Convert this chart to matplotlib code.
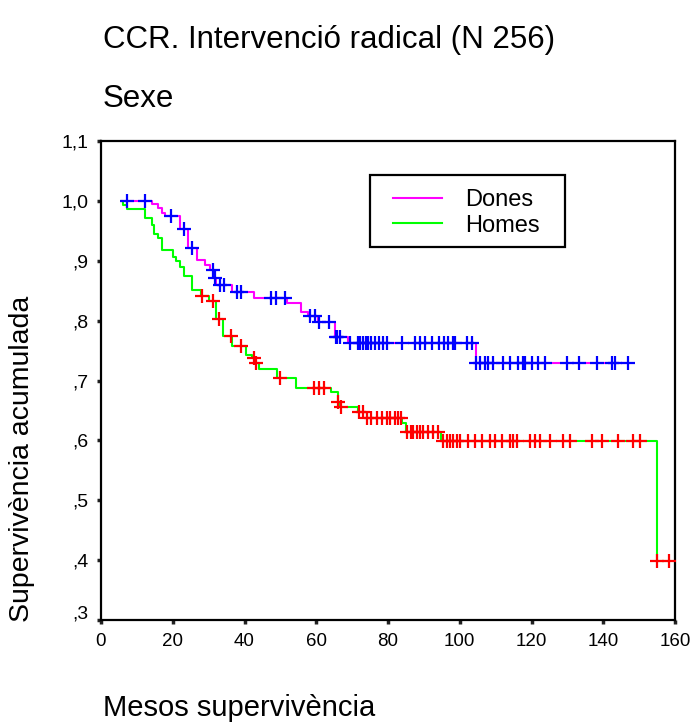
import numpy as np
import matplotlib
matplotlib.use("Agg")
import matplotlib.pyplot as plt
from matplotlib.lines import Line2D
from matplotlib.patches import Rectangle
from matplotlib.transforms import ScaledTranslation

plt.rcParams['font.family'] = ['Liberation Sans', 'DejaVu Sans']

# ---- data ----
title1 = "CCR. Intervenció radical (N 256)"
title2 = "Sexe"
xlabel = "Mesos supervivència"
ylabel = "Supervivència acumulada"
groups = ["Dones", "Homes"]

xticks = [0, 20, 40, 60, 80, 100, 120, 140, 160]
yticks = [0.3, 0.4, 0.5, 0.6, 0.7, 0.8, 0.9, 1.0, 1.1]
yticklabels = [",3", ",4", ",5", ",6", ",7", ",8", ",9", "1,0", "1,1"]

# Dones: step times and survival after each step
dones_t = [5.8, 14.3, 15.8, 16.9, 17.8, 22.0, 24.2, 26.7, 29.0, 30.4, 31.5, 32.0,
           36.4, 42.6, 51.9, 55.7, 57.8, 60.5, 65.2, 68.9, 104.4]
dones_s = [1.0, 0.995, 0.988, 0.980, 0.975, 0.953, 0.921, 0.901, 0.893, 0.884, 0.872, 0.860,
           0.848, 0.837, 0.829, 0.815, 0.807, 0.797, 0.773, 0.762, 0.730]
dones_cens = [7.3, 12.3, 19.5, 23.1, 25.3, 31.3, 31.8, 33.2, 34.3, 38.0, 39.1, 47.3, 48.8,
              51.3, 58.3, 59.6, 60.9, 63.5, 65.4, 65.8, 66.6, 69.4, 71.7, 72.2, 73.1, 73.9,
              74.5, 75.2, 76.4, 77.6, 78.7, 79.8, 83.8, 87.5, 88.9, 90.3, 92.2, 94.3, 95.6,
              96.8, 98.2, 98.7, 101.9, 103.3, 104.5, 105.7, 107.0, 108.0, 109.4, 112.1, 114.0,
              116.3, 117.7, 118.2, 120.0, 121.9, 123.8, 129.8, 133.3, 138.2, 142.4, 143.3, 147.0]

# Homes
homes_t = [5.8, 6.2, 7.2, 12.3, 14.3, 14.9, 16.0, 17.1, 20.0, 20.9, 22.0, 23.2, 25.5,
           28.0, 30.2, 32.0, 34.1, 36.4, 40.4, 42.0, 43.0, 44.1, 49.0, 54.4, 64.0, 66.0,
           66.6, 71.5, 74.2, 83.8, 85.0, 94.9, 155.1]
homes_s = [1.0, 0.993, 0.986, 0.972, 0.960, 0.945, 0.938, 0.918, 0.907, 0.900, 0.890, 0.875, 0.851,
           0.841, 0.832, 0.802, 0.774, 0.758, 0.743, 0.737, 0.729, 0.720, 0.704, 0.687, 0.680, 0.664,
           0.655, 0.647, 0.638, 0.629, 0.614, 0.599, 0.399]
homes_cens = [28.1, 31.3, 32.9, 36.2, 39.0, 42.6, 43.2, 49.9, 59.5, 60.9, 62.2, 66.0, 66.8,
              71.9, 73.1, 74.2, 75.4, 76.8, 78.2, 79.6, 80.6, 81.9, 82.9, 83.5, 85.2, 86.3,
              87.1, 88.0, 88.9, 89.8, 91.2, 92.6, 94.0, 95.4, 96.4, 97.3, 98.2, 99.2, 100.1,
              102.4, 104.2, 106.1, 108.4, 109.8, 111.7, 114.0, 114.9, 115.9, 119.6, 121.0,
              122.4, 125.2, 128.9, 130.7, 136.8, 139.6, 144.2, 148.4, 150.2, 155.1, 158.2]

line_colors = {"Dones": "#FF00FF", "Homes": "#00FF00"}
cens_colors = {"Dones": "#0000FF", "Homes": "#FF0000"}

# ---- figure ----
W, H = 696, 722
fig = plt.figure(figsize=(W / 100, H / 100), dpi=100)
ax = fig.add_axes([101 / W, 1 - 620 / H, (675 - 101) / W, (620 - 141) / H])

def curve(t, s, cens):
    t = np.asarray(t, float)
    s = np.asarray(s, float)
    c = np.asarray(cens, float)
    end = max(t[-1], c.max())
    tt = np.append(t, end)
    ss = np.append(s, s[-1])
    idx = np.searchsorted(t, c, side='right') - 1
    return tt, ss, c, s[idx]

data = {"Dones": (dones_t, dones_s, dones_cens), "Homes": (homes_t, homes_s, homes_cens)}
curves = {g: curve(*data[g]) for g in groups}

for g in ["Homes", "Dones"]:
    tt, ss, c, cy = curves[g]
    ax.plot(tt, ss, drawstyle='steps-post', color=line_colors[g], lw=1.5, zorder=2)
for g in ["Homes", "Dones"]:
    tt, ss, c, cy = curves[g]
    ax.plot(c, cy, ls='none', marker='+', ms=10, mew=1.6, color=cens_colors[g], zorder=3)

ax.set_xlim(0, 160)
ax.set_ylim(0.3, 1.1)
ax.set_xticks(xticks)
ax.set_xticklabels([str(v) for v in xticks], fontsize=13.5)
ax.set_yticks(yticks)
ax.set_yticklabels(yticklabels, fontsize=14)
ax.tick_params(direction='out', length=3, width=2.5, color='#222222', pad=6)
for sp in ax.spines.values():
    sp.set_linewidth(1.6)
    sp.set_color('black')

# bottom y label sits slightly raised, as in the reference
lbl0 = ax.get_yticklabels()[0]
lbl0.set_transform(lbl0.get_transform() + ScaledTranslation(0, 8 / 100, fig.dpi_scale_trans))

fig.text(103 / W, 1 - 40 / H, title1, fontsize=22.5, ha='left', va='center')
fig.text(103 / W, 1 - 99 / H, title2, fontsize=22.5, ha='left', va='center')
fig.text(103 / W, 1 - 716 / H, xlabel, fontsize=21, ha='left', va='baseline')
fig.text(22 / W, 1 - 622 / H, ylabel, fontsize=20.5, ha='center', va='bottom', rotation=90)

# legend box
fig.add_artist(Rectangle((370 / W, 1 - 247 / H), 195 / W, 72 / H, transform=fig.transFigure,
                         facecolor='white', edgecolor='black', lw=1.6, zorder=4))
handles = [Line2D([], [], color=line_colors[g], lw=1.5) for g in groups]
leg = fig.legend(handles, groups, loc='upper left',
                 bbox_to_anchor=(393 / W, 1 - 189 / H), bbox_transform=fig.transFigure,
                 fontsize=17, frameon=False, borderaxespad=0, borderpad=0,
                 handlelength=2.08, handletextpad=0.97, labelspacing=0.15)
leg.set_zorder(5)

fig.savefig("out.png", dpi=100)
